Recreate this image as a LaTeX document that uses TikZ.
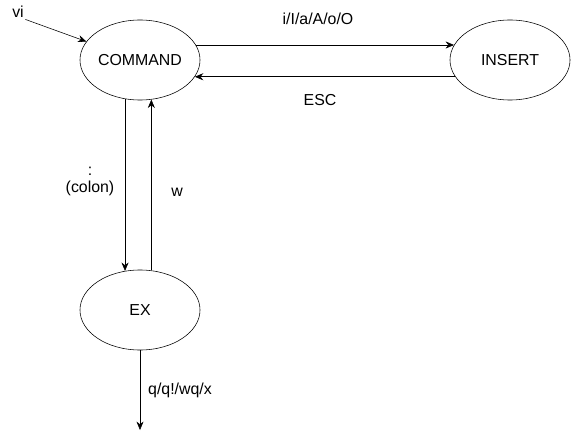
\documentclass[tikz,border=0pt]{standalone}
\usepackage{fontspec}
\setmainfont{Liberation Sans}
\usetikzlibrary{shapes.geometric,arrows.meta}
\tikzset{
  state/.style={ellipse, draw, thin, minimum width=3cm, minimum height=2cm, inner sep=0pt},
  lbl/.style={inner sep=1pt}
}
\begin{document}
\begin{tikzpicture}[x=0.025cm, y=-0.025cm, >={Stealth[length=6pt,width=5pt]}, font=\fontsize{11.3}{13}\selectfont]
\useasboundingbox (0,0) rectangle (571,439);
% states
\node[state] (cmd) at (140,60) {COMMAND};
\node[state] (ins) at (510,60) {INSERT};
\node[state] (ex) at (140,310) {EX};
\node[lbl] (vi) at (18,12) {vi};
\coordinate (quit) at (140,430);
% transitions
\draw[->] (vi.south east) -- (cmd.161);
\draw[->] (cmd.15) -- (ins.165);
\draw[->] (ins.197) -- (cmd.343);
\draw[->] (cmd.249) -- (ex.111);
\draw[->] (ex.74) -- (cmd.286);
\draw[->] (ex) -- (quit);
% labels
\node[lbl] at (318,19) {i/I/a/A/o/O};
\node[lbl] at (320,100) {ESC};
\node[lbl] at (90,171) {:};
\node[lbl] at (90,188) {(colon)};
\node[lbl] at (177,192) {w};
\node[lbl] at (180,390) {q/q!/wq/x};
\end{tikzpicture}
\end{document}
